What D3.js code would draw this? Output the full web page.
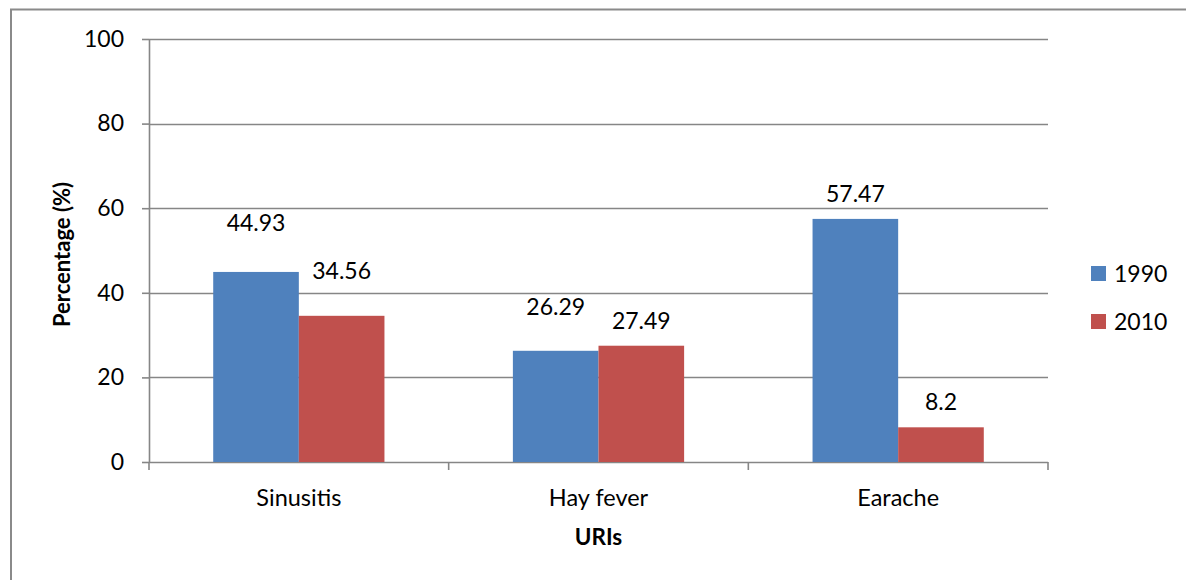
<!DOCTYPE html>
<html>
<head>
<meta charset="utf-8">
<script src="https://cdn.jsdelivr.net/npm/d3@7"></script>
<style>
  html, body { margin: 0; padding: 0; background: #fff; }
  svg { display: block; }
  text { font-family: Lato, "Open Sans", sans-serif; fill: #000; }
</style>
</head>
<body>
<svg id="chart" width="1186" height="580"></svg>
<script>
// Upper respiratory infections, share of respondents by year
const categories = ["Sinusitis", "Hay fever", "Earache"];
const seriesNames = ["1990", "2010"];
const values1990 = [44.93, 26.29, 57.47];
const values2010 = [34.56, 27.49, 8.2];
const yTicks = [0, 20, 40, 60, 80, 100];
const seriesColors = ["#4F81BD", "#C0504D"];

const svg = d3.select("#chart");
const W = 1186, H = 580;
const plot = { left: 149, right: 1048, top: 39, bottom: 462 };

// outer chart frame
svg.append("rect")
  .attr("x", 11).attr("y", 9.5)
  .attr("width", W + 20).attr("height", H + 20)
  .attr("fill", "none").attr("stroke", "#8a8a8a").attr("stroke-width", 2);

const x0 = d3.scaleBand().domain(categories).range([plot.left, plot.right]).paddingInner(0).paddingOuter(0);
// 150% gap width: two bars take 2/3.5 of each category slot
const groupPad = 1.5 / 3.5 / 2;
const x1 = d3.scaleBand().domain(seriesNames)
  .range([x0.bandwidth() * groupPad, x0.bandwidth() * (1 - groupPad)]);
const y = d3.scaleLinear().domain([0, 100]).range([plot.bottom, plot.top]);

const gridColor = "#868686";

// horizontal gridlines
svg.append("g").selectAll("line").data(yTicks.filter(d => d > 0)).join("line")
  .attr("x1", plot.left).attr("x2", plot.right)
  .attr("y1", d => Math.round(y(d)) + 0.5).attr("y2", d => Math.round(y(d)) + 0.5)
  .attr("stroke", gridColor).attr("stroke-width", 1.6);

// y axis
const yAxis = svg.append("g")
  .attr("transform", `translate(${plot.left},0)`)
  .call(d3.axisLeft(y).tickValues(yTicks).tickSize(7).tickPadding(18).tickSizeOuter(0));
yAxis.select(".domain").attr("stroke", gridColor).attr("stroke-width", 1.6);
yAxis.selectAll(".tick line").attr("stroke", gridColor).attr("stroke-width", 1.6);
yAxis.selectAll(".tick text")
  .attr("font-family", "Lato, sans-serif").attr("font-size", 23).attr("fill", "#000");

// x axis with category boundary ticks
const xAxisG = svg.append("g").attr("transform", `translate(0,${plot.bottom})`);
xAxisG.append("line")
  .attr("x1", plot.left).attr("x2", plot.right).attr("y1", 0.5).attr("y2", 0.5)
  .attr("stroke", gridColor).attr("stroke-width", 1.6);
const boundaries = categories.map(c => x0(c)).concat([x0(categories[categories.length - 1]) + x0.bandwidth()]);
xAxisG.selectAll("line.tk").data(boundaries).join("line").attr("class", "tk")
  .attr("x1", d => d).attr("x2", d => d).attr("y1", 0).attr("y2", 8)
  .attr("stroke", gridColor).attr("stroke-width", 1.6);
xAxisG.selectAll("text").data(categories).join("text")
  .attr("x", d => x0(d) + x0.bandwidth() / 2)
  .attr("y", 44)
  .attr("text-anchor", "middle")
  .attr("font-size", 23.5)
  .text(d => d);

// bars
const rows = categories.map((c, i) => ({ cat: c, vals: [values1990[i], values2010[i]] }));
const groups = svg.append("g").selectAll("g").data(rows).join("g")
  .attr("transform", d => `translate(${x0(d.cat)},0)`);
groups.selectAll("rect").data(d => d.vals.map((v, j) => ({ s: seriesNames[j], v, j }))).join("rect")
  .attr("x", d => x1(d.s))
  .attr("width", x1.bandwidth())
  .attr("y", d => y(d.v))
  .attr("height", d => y(0) - y(d.v))
  .attr("fill", d => seriesColors[d.j]);

// value labels; some were nudged higher on the chart
const extraLift = [[24, 20], [19, 0], [0, 0]];
groups.each(function (d, i) {
  d3.select(this).selectAll("text").data(d.vals.map((v, j) => ({ s: seriesNames[j], v, j }))).join("text")
    .attr("x", e => x1(e.s) + x1.bandwidth() / 2)
    .attr("y", e => y(e.v) - 25 - extraLift[i][e.j])
    .attr("dy", "0.35em")
    .attr("text-anchor", "middle")
    .attr("font-size", 23)
    .text(e => String(e.v));
});

// axis titles
svg.append("text")
  .attr("transform", `translate(62,${(plot.top + plot.bottom) / 2 + 4}) rotate(-90)`)
  .attr("text-anchor", "middle").attr("dy", "0.35em")
  .attr("font-size", 22).attr("font-weight", "bold")
  .text("Percentage (%)");
svg.append("text")
  .attr("x", (plot.left + plot.right) / 2).attr("y", 537)
  .attr("dy", "0.35em").attr("text-anchor", "middle")
  .attr("font-size", 22.5).attr("font-weight", "bold")
  .text("URIs");

// legend
const legend = svg.append("g").selectAll("g").data(seriesNames).join("g")
  .attr("transform", (d, i) => `translate(1091,${266 + i * 48})`);
legend.append("rect").attr("width", 15).attr("height", 15)
  .attr("fill", (d, i) => seriesColors[i]);
legend.append("text").attr("x", 23).attr("y", 7.5).attr("dy", "0.35em")
  .attr("font-size", 23).text(d => d);
</script>
</body>
</html>
